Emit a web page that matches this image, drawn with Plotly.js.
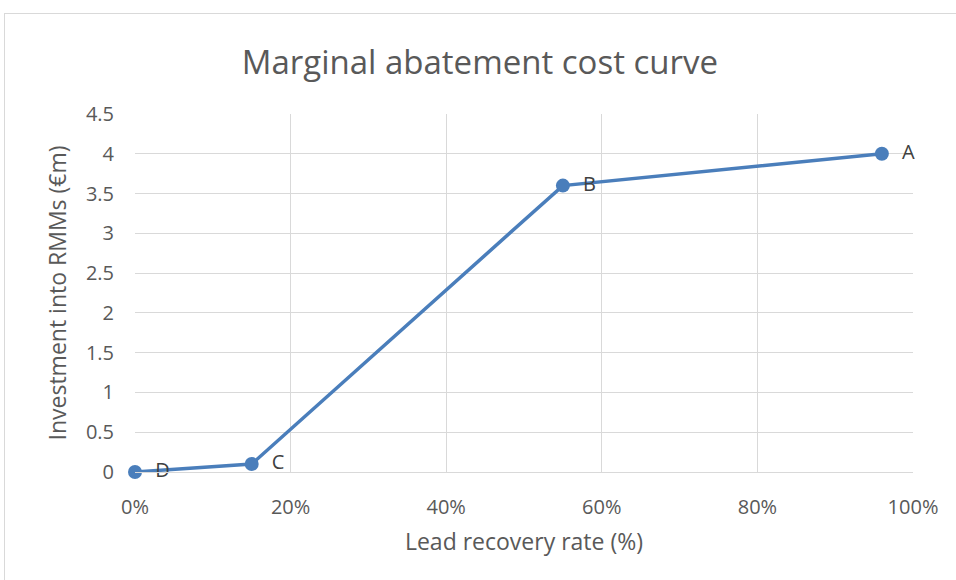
<!DOCTYPE html>
<html>
<head>
<meta charset="utf-8">
<script src="https://cdn.plot.ly/plotly-3.0.1.min.js"></script>
<style>
html,body{margin:0;padding:0;background:#fff;}
#wrap{position:relative;width:956px;height:580px;overflow:hidden;}
#chart{position:absolute;left:0;top:0;width:956px;height:580px;}
#frame{position:absolute;left:4px;top:13px;width:1000px;height:700px;border:1px solid #d9d9d9;pointer-events:none;}
</style>
</head>
<body>
<div id="wrap"><div id="chart"></div><div id="frame"></div></div>
<script>
const recoveryRate = [0, 0.15, 0.55, 0.96];
const investment = [0, 0.1, 3.6, 4.0];
const pointLabels = ['D', 'C', 'B', 'A'];
const xTicks = [0, 0.2, 0.4, 0.6, 0.8, 1.0];
const yTicks = [0, 0.5, 1, 1.5, 2, 2.5, 3, 3.5, 4, 4.5];
const yTickText = ['0', '0.5', '1', '1.5', '2', '2.5', '3', '3.5', '4', '4.5'];

const font = '"Open Sans", "Noto Sans", sans-serif';
const trace = {
  x: recoveryRate, y: investment, text: pointLabels,
  type: 'scatter', mode: 'lines+markers+text',
  textposition: 'middle right',
  texttemplate: '  %{text}',
  textfont: {family: font, size: 20, color: '#404040'},
  line: {color: '#4a7ebb', width: 3.5},
  marker: {color: '#4a7ebb', size: 14},
  cliponaxis: false, hoverinfo: 'none'
};
const layout = {
  width: 956, height: 580,
  margin: {l: 135, r: 43, t: 114, b: 108},
  paper_bgcolor: '#fff', plot_bgcolor: '#fff',
  showlegend: false,
  title: {text: 'Marginal abatement cost curve', x: 0.502, xanchor: 'center', y: 0.893, yanchor: 'middle',
          font: {family: font, size: 33, color: '#595959'}},
  xaxis: {range: [0, 1], tickvals: xTicks, tickformat: '.0%', showgrid: true, gridcolor: '#d9d9d9', gridwidth: 1,
          zeroline: false, showline: true, linecolor: '#d9d9d9', linewidth: 1, ticks: '', ticklen: 0,
          ticklabelstandoff: 17,
          tickfont: {family: font, size: 20, color: '#595959'},
          title: {text: 'Lead recovery rate (%)', standoff: 14, font: {family: font, size: 23, color: '#595959'}}},
  yaxis: {range: [0, 4.5], tickvals: yTicks, ticktext: yTickText, showgrid: true, gridcolor: '#d9d9d9', gridwidth: 1,
          zeroline: false, showline: false, ticks: '', ticklen: 0,
          ticklabelstandoff: 20,
          tickfont: {family: font, size: 20, color: '#595959'},
          title: {text: 'Investment into RMMs (€m)', standoff: 12, font: {family: font, size: 23, color: '#595959'}}}
};
Plotly.newPlot('chart', [trace], layout, {staticPlot: true});
</script>
</body>
</html>
